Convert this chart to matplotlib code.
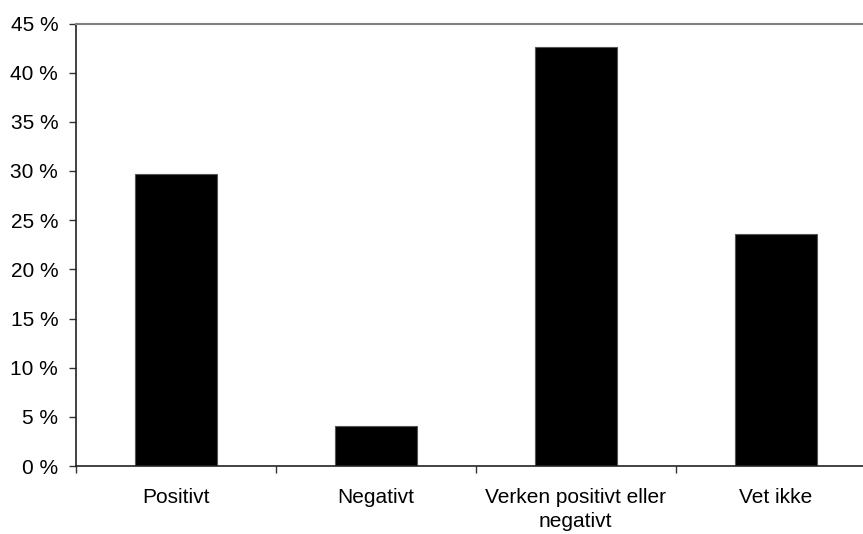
import matplotlib
matplotlib.use("Agg")
import matplotlib.pyplot as plt
from matplotlib.ticker import FuncFormatter

plt.rcParams['font.family'] = ['Liberation Sans', 'DejaVu Sans']

categories = ["Positivt", "Negativt", "Verken positivt eller\nnegativt", "Vet ikke"]
shares = [29.7, 4.1, 42.6, 23.6]
y_ticks = [0, 5, 10, 15, 20, 25, 30, 35, 40, 45]

fig = plt.figure(figsize=(8.63, 5.34), dpi=100)
# axes run past the right edge, so the last category gets clipped
ax = fig.add_axes([75.5 / 863, 68 / 534, 800 / 863, 442.5 / 534])

x = list(range(len(categories)))
ax.bar(x, shares, width=0.41, color="black", edgecolor="#555555", linewidth=0.8)

ax.set_xlim(-0.5, len(categories) - 0.5)
ax.set_ylim(0, 45)
ax.set_yticks(y_ticks)
ax.yaxis.set_major_formatter(FuncFormatter(lambda v, p: f"{v:.0f} %"))

# category labels centred, tick marks between categories
ax.set_xticks(x)
ax.set_xticklabels(categories, fontsize=15, linespacing=1.35)
ax.tick_params(axis="x", which="major", length=0, pad=15.5)
ax.set_xticks([i + 0.5 for i in range(-1, len(categories))], minor=True)
ax.tick_params(axis="x", which="minor", length=5, width=1, color="#333333")
ax.tick_params(axis="y", length=5, width=1, color="#333333", labelsize=15, pad=7.5)

ax.spines["right"].set_visible(False)
ax.spines["top"].set_color("#808080")
ax.spines["top"].set_linewidth(1.5)
ax.spines["left"].set_color("#222222")
ax.spines["left"].set_linewidth(1.2)
ax.spines["bottom"].set_color("#222222")
ax.spines["bottom"].set_linewidth(1.2)

fig.savefig("out.png", dpi=100)
